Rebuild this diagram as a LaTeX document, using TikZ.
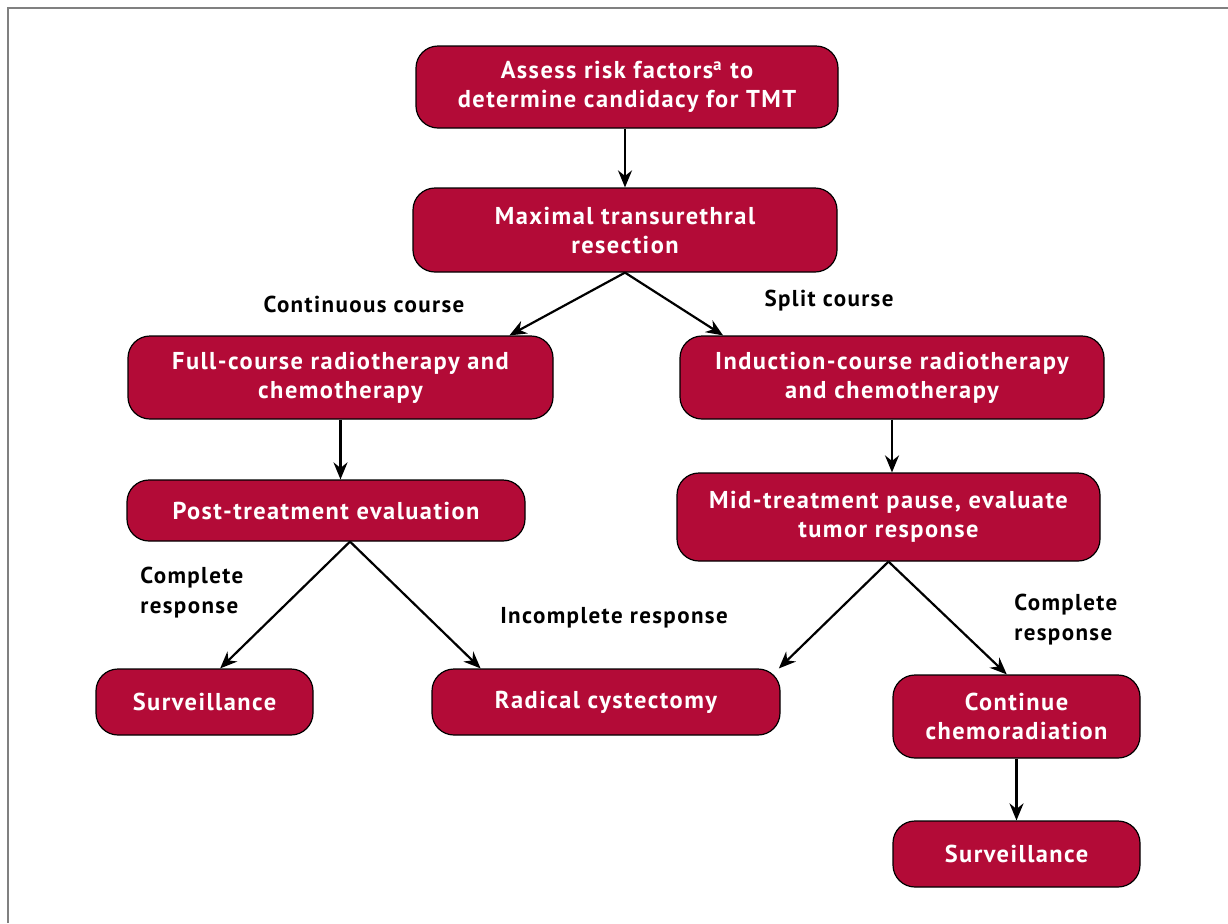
\documentclass[tikz,border=0pt]{standalone}
\usepackage{fontspec}
\setmainfont{PT Sans}[LetterSpace=6]
\usepackage{tikz}
\usetikzlibrary{positioning, arrows.meta, calc}
\usepackage{xcolor}
\definecolor{boxred}{RGB}{179,11,55}
\definecolor{framegray}{RGB}{128,128,128}

\begin{document}
\begin{tikzpicture}[x=0.5pt, y=-0.5pt, >={Stealth[length=8.5pt, width=7pt]},
  stepbox/.style={draw=black, line width=0.6pt, fill=boxred, rounded corners=11pt,
    text=white, font=\bfseries\fontsize{12.2}{14.5}\selectfont, align=center, inner sep=0pt},
  lbl/.style={font=\bfseries\fontsize{11.5}{15}\selectfont, align=left, inner sep=0pt},
  arr/.style={->, line width=1.1pt}]
  \useasboundingbox (0,0) rectangle (1228,923);

  % Frame (top and left only)
  \draw[framegray, line width=1pt] (8,923) -- (8,8) -- (1228,8);

  % Top of the pathway
  \node[stepbox, minimum width=211pt, minimum height=41pt] (assess) at (627,87)
    {Assess risk factors\textsuperscript{a} to\\determine candidacy for TMT};
  \node[stepbox, minimum width=212pt, minimum height=42pt] (resect) at (625,230)
    {Maximal transurethral\\resection};

  % Continuous course branch
  \node[stepbox, minimum width=212.5pt, minimum height=41.5pt] (full) at (340.5,377.5)
    {Full-course radiotherapy and\\chemotherapy};
  \node[stepbox, minimum width=199pt, minimum height=30.5pt] (post) at (326,510.5)
    {Post-treatment evaluation};
  \node[stepbox, minimum width=108.5pt, minimum height=33pt] (survL) at (204.5,702)
    {Surveillance};
  \node[stepbox, minimum width=174pt, minimum height=33pt] (radical) at (606,702)
    {Radical cystectomy};

  % Split course branch
  \node[stepbox, minimum width=212pt, minimum height=41.5pt] (induct) at (892,377.5)
    {Induction-course radiotherapy\\and chemotherapy};
  \node[stepbox, minimum width=211.5pt, minimum height=44pt] (mid) at (888.5,517)
    {Mid-treatment pause, evaluate\\tumor response};
  \node[stepbox, minimum width=123.5pt, minimum height=41.5pt] (cont) at (1016.5,716.5)
    {Continue\\chemoradiation};
  \node[stepbox, minimum width=123.5pt, minimum height=33pt] (survR) at (1016.5,854)
    {Surveillance};

  % Branch labels
  \node[lbl] (lcont) at (364,304) {Continuous course};
  \node[lbl] (lsplit) at (829,301) {Split course};
  \node[lbl, anchor=west] (lcompL) at (140,593) {Complete\\response};
  \node[lbl] (lincomp) at (614,618) {Incomplete response};
  \node[lbl, anchor=west] (lcompR) at (1014,620) {Complete\\response};

  % Arrows
  \draw[arr] (resect.north |- assess.south) -- (resect.north);
  \draw[arr] (resect.south) -- (full.14);
  \draw[arr] (resect.south) -- (induct.166);
  \draw[arr] (full.south) -- (full.south |- post.north);
  \draw[arr] (induct.south) -- (induct.south |- mid.north);
  \coordinate (postout) at ($(post.south)+(24,0)$);
  \draw[arr] (postout) -- (survL.65);
  \draw[arr] (postout) -- (radical.165);
  \draw[arr] (mid.south) -- (radical.11);
  \draw[arr] (mid.south) -- (cont.103);
  \draw[arr] (cont.south) -- (survR.north);
\end{tikzpicture}
\end{document}
